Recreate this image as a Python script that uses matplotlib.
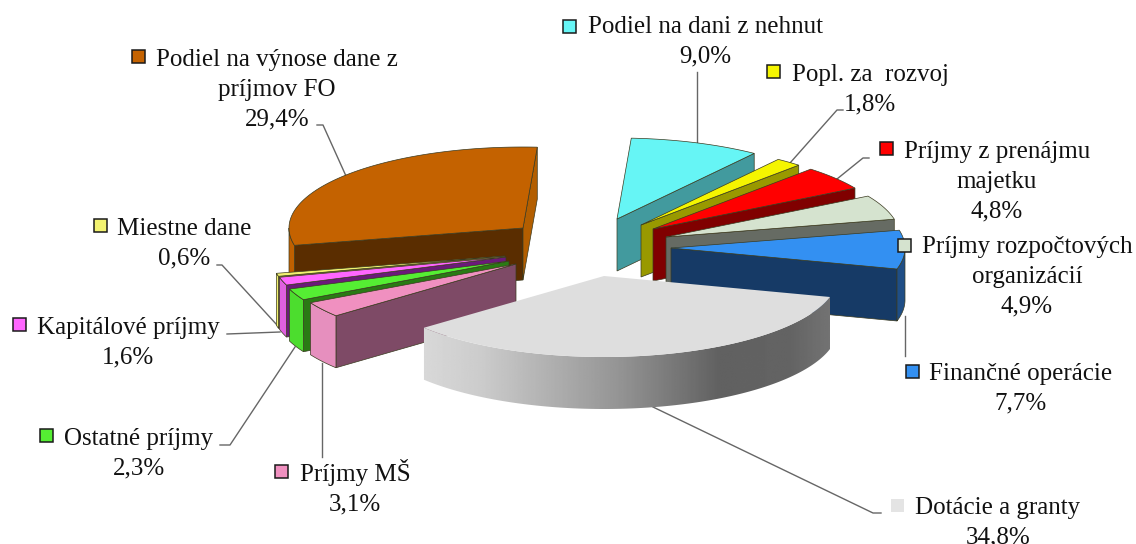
import numpy as np
import matplotlib
matplotlib.use("Agg")
import matplotlib.pyplot as plt
from matplotlib.patches import Polygon, Rectangle

plt.rcParams['font.family'] = ['Liberation Serif', 'DejaVu Serif']

# clockwise from the top, as in the sheet
names = ["Podiel na dani z nehnut", "Popl. za  rozvoj", "Príjmy z prenájmu\nmajetku",
         "Príjmy rozpočtových\norganizácií", "Finančné operácie", "Dotácie a granty",
         "Príjmy MŠ", "Ostatné príjmy", "Kapitálové príjmy", "Miestne dane",
         "Podiel na výnose dane z\npríjmov FO"]
shares = [9.0, 1.8, 4.8, 4.9, 7.7, 34.8, 3.1, 2.3, 1.6, 0.6, 29.4]

top_colors = ["#66F5F5", "#F5F500", "#FF0000", "#D5E3CF", "#3390F2", "#DEDEDE",
              "#F090C0", "#55EE33", "#FF66FF", "#F2F270", "#C46200"]
face_colors = ["#429A9E", "#999900", "#800000", "#666B63", "#163A66", "#808080",
               "#7E4A66", "#2A7A14", "#6B1A7A", "#8A8A30", "#5A2D00"]
wall_colors = ["#429A9E", "#999900", "#800000", "#666B63", "#1F4E86", "#808080",
               "#E68FBE", "#4CDD2E", "#E060E0", "#F2F270", "#BF6000"]
key_colors = ["#66F5F5", "#F5F500", "#FF0000", "#D5E3CF", "#3390F2", "#E4E4E4",
              "#F090C0", "#55EE33", "#FF66FF", "#F2F270", "#C46200"]

# pixel layout of the exploded pie
apex = [(617, 219), (641, 225), (653, 229), (666, 237), (671, 248), (604, 276),
        (516, 264), (509, 261), (506, 257), (505, 256), (523, 228)]
draw_order = [10, 9, 8, 7, 6, 0, 1, 2, 3, 4, 5]
RX, RY, DEPTH = 234, 81, 52
START = 3.5

# centre x and baseline y of the first label line
label_pos = [(705, 33), (870, 81), (997, 158), (1027, 253), (1021, 380), (998, 514),
             (355, 481), (139, 445), (128, 334), (184, 235), (277, 66)]
LINE_STEP = 29.7
key_pos = [(569, 26), (773, 71), (886, 148), (904, 245), (912, 371), (897, 505),
           (281, 471), (46, 435), (19, 324), (100, 225), (138, 56)]
leaders = [[(697, 72), (697, 146)],
           [(843, 110), (837, 110), (790, 163)],
           [(869, 158), (863, 158), (837, 179)],
           [],
           [(905, 356), (905, 316)],
           [(653, 407), (873, 513), (881, 513)],
           [(322, 457), (322, 363)],
           [(220, 445), (230, 445), (295, 347)],
           [(227, 334), (280, 332)],
           [(217, 265), (222, 265), (277, 325)],
           [(317, 125), (323, 125), (346, 176)]]


def point(c, deg):
    a = np.radians(deg)
    return c[0] + RX * np.sin(a), c[1] - RY * np.cos(a)


def arc(c, a0, a1):
    t = np.linspace(a0, a1, max(int(abs(a1 - a0)) * 2, 2) + 1)
    x, y = point(c, t)
    return np.column_stack([x, y])


def radial_face(ax, c, deg, color, edge, z):
    x, y = point(c, deg)
    pts = [c, (x, y), (x, y + DEPTH), (c[0], c[1] + DEPTH)]
    ax.add_patch(Polygon(pts, closed=True, fc=color, ec=edge, lw=0.5, zorder=z))


fig = plt.figure(figsize=(11.36, 5.44), dpi=100)
ax = fig.add_axes([0, 0, 1, 1])

# leader lines under the pie
for line in leaders:
    if line:
        xs, ys = zip(*line)
        ax.plot(xs, ys, color="#666666", lw=1.0, zorder=1)

edges = np.cumsum([0] + shares) * 3.6 + START
z = 2
for i in draw_order:
    a0, a1 = edges[i], edges[i + 1]
    c = apex[i]
    is_grant = names[i].startswith("Dot")
    edge = "none" if is_grant else "#3a3a20"
    # radial sides, only the ones turned towards the viewer
    if np.sin(np.radians(a0)) < 0 and not is_grant:
        radial_face(ax, c, a0, face_colors[i], edge, z)
    if np.sin(np.radians(a1)) > 0 and not is_grant:
        col = "#B35E00" if a1 > 360 else face_colors[i]
        radial_face(ax, c, a1, col, edge, z)
    z += 1
    # outer wall
    w0, w1 = max(a0, 90), min(a1, 270)
    if w1 > w0:
        rim = arc(c, w0, w1)
        low = rim[::-1] + [0, DEPTH]
        wall = Polygon(np.vstack([rim, low]), closed=True, fc=wall_colors[i], ec=edge, lw=0.5, zorder=z)
        ax.add_patch(wall)
        if is_grant:
            wall.set_facecolor("none")
            grad = np.interp(np.linspace(420, 830, 256), [420, 480, 620, 720, 790, 830],
                             [0.85, 0.80, 0.58, 0.38, 0.39, 0.45])
            img = ax.imshow(grad[None, :], cmap="gray", vmin=0, vmax=1, aspect="auto",
                            extent=(420, 830, 420, 290), interpolation="bilinear", zorder=z)
            img.set_clip_path(wall)
    z += 1
    # top face
    top = np.vstack([[c], arc(c, a0, a1)])
    ax.add_patch(Polygon(top, closed=True, fc=top_colors[i], ec=edge, lw=0.5, zorder=z))
    z += 1

ax.set_xlim(0, 1136)
ax.set_ylim(544, 0)
ax.axis("off")

for i, name in enumerate(names):
    pct = f"{shares[i]:.1f}".replace(".", ",") + "%"
    lx, ly = label_pos[i]
    for k, row in enumerate(name.split("\n") + [pct]):
        ax.text(lx, ly + k * LINE_STEP, row, ha="center", va="baseline", fontsize=18,
                color="#111111", zorder=60)
    kx, ky = key_pos[i]
    key_edge = "none" if name.startswith("Dot") else "#1a1a1a"
    ax.add_patch(Rectangle((kx - 6.5, ky - 6.5), 13, 13, fc=key_colors[i], ec=key_edge, lw=1.1, zorder=61))

fig.savefig("out.png", dpi=100)
